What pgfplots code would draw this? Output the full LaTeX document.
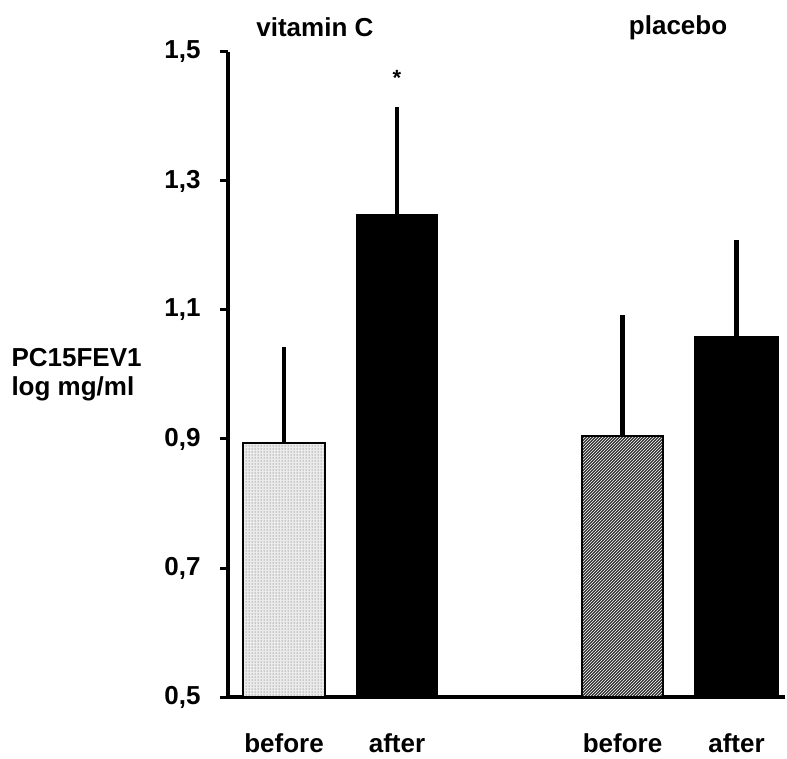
\documentclass[border=0pt]{standalone}
\usepackage{pgfplots}
\pgfplotsset{compat=1.18}
\usetikzlibrary{patterns}
\usepackage{fontspec}
\setmainfont{Liberation Sans}
\newcommand{\lbl}{\bfseries\fontsize{26}{29}\selectfont}
\begin{document}
\begin{tikzpicture}
\path[use as bounding box] (-228pt,-61pt) rectangle (559pt,697pt);
\begin{axis}[
  scale only axis, width=557pt, height=645pt,
  at={(0,0)}, anchor=south west,
  xmin=0, xmax=557, ymin=0.5, ymax=1.5,
  axis x line=bottom, axis y line=left,
  axis line style={-, line width=3.5pt},
  ytick={0.5,0.7,0.9,1.1,1.3,1.5},
  yticklabel style={font=\lbl, xshift=-16pt},
  /pgf/number format/assume math mode=true,
  /pgf/number format/use comma,
  /pgf/number format/fixed,
  /pgf/number format/precision=1,
  /pgf/number format/fixed zerofill,
  xtick={56,169,394.5,508.5},
  xticklabels={before,after,before,after},
  xticklabel style={font=\lbl, yshift=-25pt},
  major x tick style={draw=none},
  major y tick style={line width=3pt, black},
  tick align=outside, major tick length=8pt,
  clip mode=individual,
  ylabel={PC15FEV1\\log mg/ml},
  ylabel style={rotate=-90, at={(axis description cs:-0.395,0.50)}, anchor=west, align=left, font=\lbl},
]
\addplot[ybar, bar width=82, bar shift=0pt, draw=black, line width=2.5pt,
  fill=black!8, postaction={pattern=dots, pattern color=black!70},
  error bars/.cd, y dir=plus, y explicit, error mark=none,
  error bar style={line width=4.5pt, black}]
  coordinates {(56,0.894) +- (0,0.149)};
\addplot[ybar, bar width=80, bar shift=0pt, draw=black, line width=2.5pt, fill=black,
  error bars/.cd, y dir=plus, y explicit, error mark=none,
  error bar style={line width=4.5pt, black}]
  coordinates {(169,1.247) +- (0,0.168)};
\addplot[ybar, bar width=81, bar shift=0pt, draw=black, line width=2.5pt,
  fill=black!80, postaction={pattern=north east lines, pattern color=white},
  error bars/.cd, y dir=plus, y explicit, error mark=none,
  error bar style={line width=4.5pt, black}]
  coordinates {(394.5,0.905) +- (0,0.187)};
\addplot[ybar, bar width=83, bar shift=0pt, draw=black, line width=2.5pt, fill=black,
  error bars/.cd, y dir=plus, y explicit, error mark=none,
  error bar style={line width=4.5pt, black}]
  coordinates {(508.5,1.058) +- (0,0.150)};
\node[font=\bfseries\fontsize{22}{24}\selectfont] at (axis cs:169,1.46) {*};
\node[font=\lbl] at (axis description cs:0.156,1.038) {vitamin C};
\node[font=\lbl] at (axis description cs:0.808,1.038) {placebo};
\end{axis}
\end{tikzpicture}
\end{document}
